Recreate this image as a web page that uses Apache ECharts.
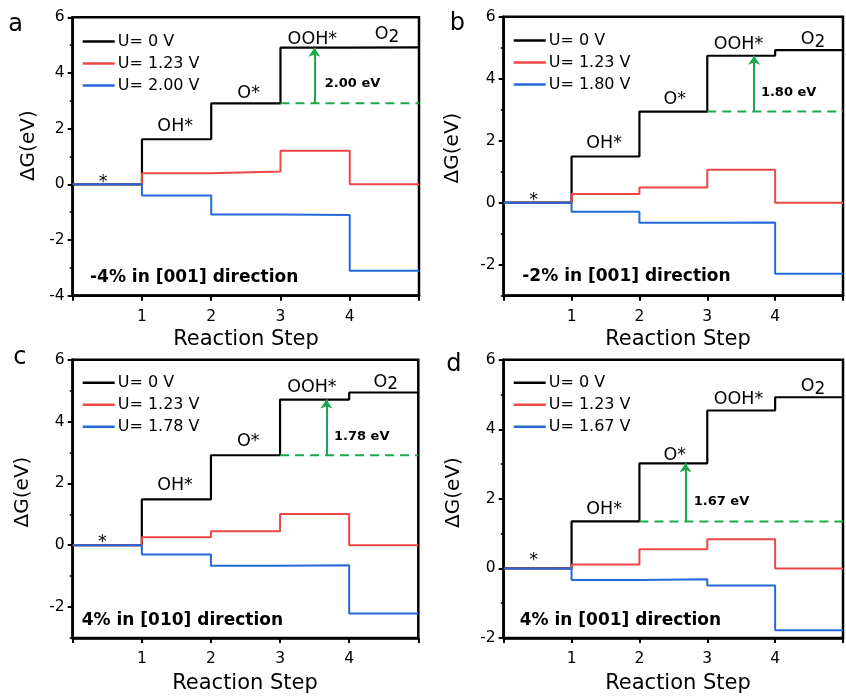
<!DOCTYPE html>
<html><head><meta charset="utf-8">
<script src="https://cdn.jsdelivr.net/npm/echarts@6/dist/echarts.min.js"></script>
<style>html,body{margin:0;padding:0;background:#fff}#c{width:846px;height:696px}</style>
</head><body><div id="c"></div>
<script>
// ---------- data ----------
const steps = [0, 1, 2, 3, 4, 5];
const xTickLabels = ['', '1', '2', '3', '4', ''];
const states = ['*', 'OH*', 'O*', 'OOH*', 'O2'];
const blackName = 'U= 0 V';
const redName = 'U= 1.23 V';

// panel a: -4% in [001]
const aBlack = [0, 1.62, 2.91, 4.91, 4.92];
const aRed = [0, 0.40, 0.46, 1.21, 0];
const aBlue = [0, -0.40, -1.08, -1.10, -3.10];
const aBlueName = 'U= 2.00 V';
const aGap = '2.00 eV';
const aDash = [3, 2.91];
const aArrow = [3.49, 2.91, 4.91];
const aYTicks = [-4, -2, 0, 2, 4, 6];

// panel b: -2% in [001]
const bBlack = [0, 1.49, 2.94, 4.74, 4.92];
const bRed = [0, 0.28, 0.49, 1.06, 0];
const bBlue = [0, -0.29, -0.65, -0.64, -2.29];
const bBlueName = 'U= 1.80 V';
const bGap = '1.80 eV';
const bDash = [3, 2.94];
const bArrow = [3.69, 2.94, 4.74];
const bYTicks = [-2, 0, 2, 4, 6];

// panel c: 4% in [010]
const cBlack = [0, 1.48, 2.91, 4.71, 4.94];
const cRed = [0, 0.26, 0.45, 1.01, 0];
const cBlue = [0, -0.30, -0.66, -0.65, -2.21];
const cBlueName = 'U= 1.78 V';
const cGap = '1.78 eV';
const cDash = [3, 2.91];
const cArrow = [3.67, 2.91, 4.71];
const cYTicks = [-2, 0, 2, 4, 6];

// panel d: 4% in [001]
const dBlack = [0, 1.35, 3.02, 4.54, 4.92];
const dRed = [0, 0.11, 0.55, 0.84, 0];
const dBlue = [0, -0.33, -0.31, -0.49, -1.78];
const dBlueName = 'U= 1.67 V';
const dGap = '1.67 eV';
const dDash = [2, 1.35];
const dArrow = [2.68, 1.35, 3.02];
const dYTicks = [-2, 0, 2, 4, 6];

// ---------- layout ----------
const FONT = 'DejaVu Sans';
const COL = { black: '#000000', red: '#ee4646', blue: '#2468dc', green: '#1ba84c' };

const panels = [
  { letter: 'a', blk: aBlack, red: aRed, blu: aBlue, blueName: aBlueName, gap: aGap, dash: aDash, arrow: aArrow, yTicks: aYTicks,
    yMin: -4, yMax: 6, dir: '-4% in [001] direction',
    grid: { left: 72.7, top: 17.3, right: 427, bottom: 400.3 },
    labelPos: [[0.44, 0.2], [1.48, 2.09], [2.54, 3.26], [3.46, 5.20], [4.54, 5.38]], gapPos: [3.64, 3.60],
    letterPos: [8.3, 24.9], yNamePos: [29.2, 145.7], xNamePos: [246, 339.4], dirPos: [90, 277.5], legendPos: [82.7, 33.5] },
  { letter: 'b', blk: bBlack, red: bRed, blu: bBlue, blueName: bBlueName, gap: bGap, dash: bDash, arrow: bArrow, yTicks: bYTicks,
    yMin: -3, yMax: 6, dir: '-2% in [001] direction',
    grid: { left: 503.7, top: 16.7, right: -4.5, bottom: 400.3 },
    labelPos: [[0.44, 0.2], [1.48, 1.92], [2.52, 3.33], [3.46, 5.11], [4.56, 5.25]], gapPos: [3.79, 3.55],
    letterPos: [449.7, 23.3], yNamePos: [453, 148], xNamePos: [678, 339.4], dirPos: [522.3, 276.7], legendPos: [513.7, 32.5] },
  { letter: 'c', blk: cBlack, red: cRed, blu: cBlue, blueName: cBlueName, gap: cGap, dash: cDash, arrow: cArrow, yTicks: cYTicks,
    yMin: -3, yMax: 6, dir: '4% in [010] direction',
    grid: { left: 72.7, top: 359.7, right: 427.7, bottom: 58 },
    labelPos: [[0.43, 0.21], [1.48, 1.93], [2.54, 3.35], [3.46, 5.11], [4.53, 5.28]], gapPos: [3.78, 3.51],
    letterPos: [13.3, 358], yNamePos: [22.5, 492], xNamePos: [245, 684], dirPos: [81.7, 620.7], legendPos: [82.7, 374.8] },
  { letter: 'd', blk: dBlack, red: dRed, blu: dBlue, blueName: dBlueName, gap: dGap, dash: dDash, arrow: dArrow, yTicks: dYTicks,
    yMin: -2, yMax: 6, dir: '4% in [001] direction',
    grid: { left: 503.7, top: 359.7, right: -4.5, bottom: 58 },
    labelPos: [[0.44, 0.33], [1.48, 1.69], [2.52, 3.26], [3.46, 4.85], [4.56, 5.24]], gapPos: [2.80, 1.92],
    letterPos: [446.3, 364.6], yNamePos: [454, 492.5], xNamePos: [678, 684], dirPos: [519.7, 620.7], legendPos: [513.7, 374.8] }
];

function stepPoints(levels) {
  const pts = levels.map((v, i) => [steps[i], v]);
  pts.push([steps[steps.length - 1], levels[levels.length - 1]]);
  return pts;
}

const grids = [], xAxes = [], yAxes = [], series = [], legends = [], graphics = [];
const axisLineStyle = { color: '#000', width: 2.5 };

panels.forEach((p, i) => {
  grids.push(Object.assign({ show: true, borderColor: '#000', borderWidth: 2.5, backgroundColor: 'transparent', containLabel: false }, p.grid));
  xAxes.push({
    type: 'value', gridIndex: i, min: 0, max: 5, interval: 1,
    axisLine: { show: true, onZero: false, lineStyle: axisLineStyle },
    axisTick: { show: true, inside: false, length: 5, lineStyle: { color: '#000', width: 2 } },
    axisLabel: { show: true, margin: 13, fontSize: 15.5, fontFamily: FONT, color: '#000', formatter: v => xTickLabels[v] },
    splitLine: { show: false }
  });
  yAxes.push({
    type: 'value', gridIndex: i, position: 'left', min: p.yMin, max: p.yMax, interval: 1,
    axisLine: { show: true, onZero: false, lineStyle: axisLineStyle },
    axisTick: { show: true, inside: false, length: 5, customValues: p.yTicks, lineStyle: { color: '#000', width: 2 } },
    axisLabel: { show: true, margin: 8, fontSize: 15.5, fontFamily: FONT, color: '#000', customValues: p.yTicks },
    splitLine: { show: false }
  });
  yAxes.push({
    type: 'value', gridIndex: i, position: 'left', offset: 0, min: p.yMin, max: p.yMax, interval: 1,
    axisLine: { show: false, onZero: false },
    axisTick: { show: true, inside: false, length: 3, lineStyle: { color: '#000', width: 1.5 } },
    axisLabel: { show: false },
    splitLine: { show: false }
  });
  const yi = i * 2;
  const lineDefs = [[blackName, p.blk, COL.black, 2.2], [redName, p.red, COL.red, 2], [p.blueName, p.blu, COL.blue, 2]];
  lineDefs.forEach(([name, lv, color, w]) => {
    series.push({
      type: 'line', name, xAxisIndex: i, yAxisIndex: yi, data: stepPoints(lv), step: 'end',
      symbol: 'none', lineStyle: { color, width: w }, itemStyle: { color }, animation: false, z: 3
    });
  });
  series.push({
    type: 'line', name: 'ref' + i, xAxisIndex: i, yAxisIndex: yi,
    data: [[p.dash[0], p.dash[1]], [steps[steps.length - 1], p.dash[1]]],
    symbol: 'none', lineStyle: { color: COL.green, width: 2, type: [9, 6] }, animation: false, silent: true, z: 4
  });
  series.push({
    type: 'lines', coordinateSystem: 'cartesian2d', xAxisIndex: i, yAxisIndex: yi,
    data: [{ coords: [[p.arrow[0], p.arrow[1]], [p.arrow[0], p.arrow[2]]] }],
    symbol: ['none', 'arrow'], symbolSize: 9,
    lineStyle: { color: COL.green, width: 2, opacity: 1 }, animation: false, silent: true, z: 5
  });
  const labelData = states.map((s, k) => {
    const item = { value: p.labelPos[k], name: s };
    if (s === '*') item.label = { offset: [0, 4] };
    return item;
  });
  labelData.push({
    value: p.gapPos, name: p.gap,
    label: { position: 'right', distance: 0, fontWeight: 'bold', fontSize: 13, formatter: '{b}' }
  });
  series.push({
    type: 'scatter', xAxisIndex: i, yAxisIndex: yi, symbolSize: 0, silent: true, animation: false, z: 6,
    itemStyle: { color: '#000', opacity: 0 },
    data: labelData,
    label: {
      show: true, position: 'inside', fontSize: 17.5, fontFamily: FONT, color: '#000', opacity: 1,
      textBorderWidth: 0, textBorderColor: 'transparent',
      formatter: prm => prm.name === 'O2' ? '{n|O}{s|2}' : prm.name,
      rich: { n: { fontSize: 17.5, fontFamily: FONT, color: '#000' }, s: { fontSize: 17, fontFamily: FONT, color: '#000', padding: [6, 0, 0, 0] } }
    }
  });
  legends.push({
    data: [blackName, redName, p.blueName], orient: 'vertical', left: p.legendPos[0], top: p.legendPos[1],
    icon: 'rect', itemWidth: 32, itemHeight: 2.5, itemGap: 6, padding: 0,
    textStyle: { fontSize: 16, fontFamily: FONT, color: '#000', padding: [0, 0, 0, -2] },
    selectedMode: false
  });
  graphics.push({ type: 'text', x: p.letterPos[0], y: p.letterPos[1],
    style: { text: p.letter, font: '24px "' + FONT + '"', fill: '#000', textAlign: 'left', textVerticalAlign: 'middle' } });
  graphics.push({ type: 'text', x: p.yNamePos[0], y: p.yNamePos[1], rotation: Math.PI / 2,
    style: { text: 'ΔG(eV)', font: '20px "' + FONT + '"', fill: '#000', textAlign: 'center', textVerticalAlign: 'middle' } });
  graphics.push({ type: 'text', x: p.xNamePos[0], y: p.xNamePos[1],
    style: { text: 'Reaction Step', font: '21px "' + FONT + '"', fill: '#000', textAlign: 'center', textVerticalAlign: 'middle' } });
  graphics.push({ type: 'text', x: p.dirPos[0], y: p.dirPos[1],
    style: { text: p.dir, font: 'bold 17px "' + FONT + '"', fill: '#000', textAlign: 'left', textVerticalAlign: 'middle' } });
});

const chart = echarts.init(document.getElementById('c'), null, { renderer: 'canvas' });
chart.setOption({
  animation: false,
  backgroundColor: '#ffffff',
  grid: grids, xAxis: xAxes, yAxis: yAxes, series, legend: legends,
  graphic: { elements: graphics }
});
</script></body></html>
